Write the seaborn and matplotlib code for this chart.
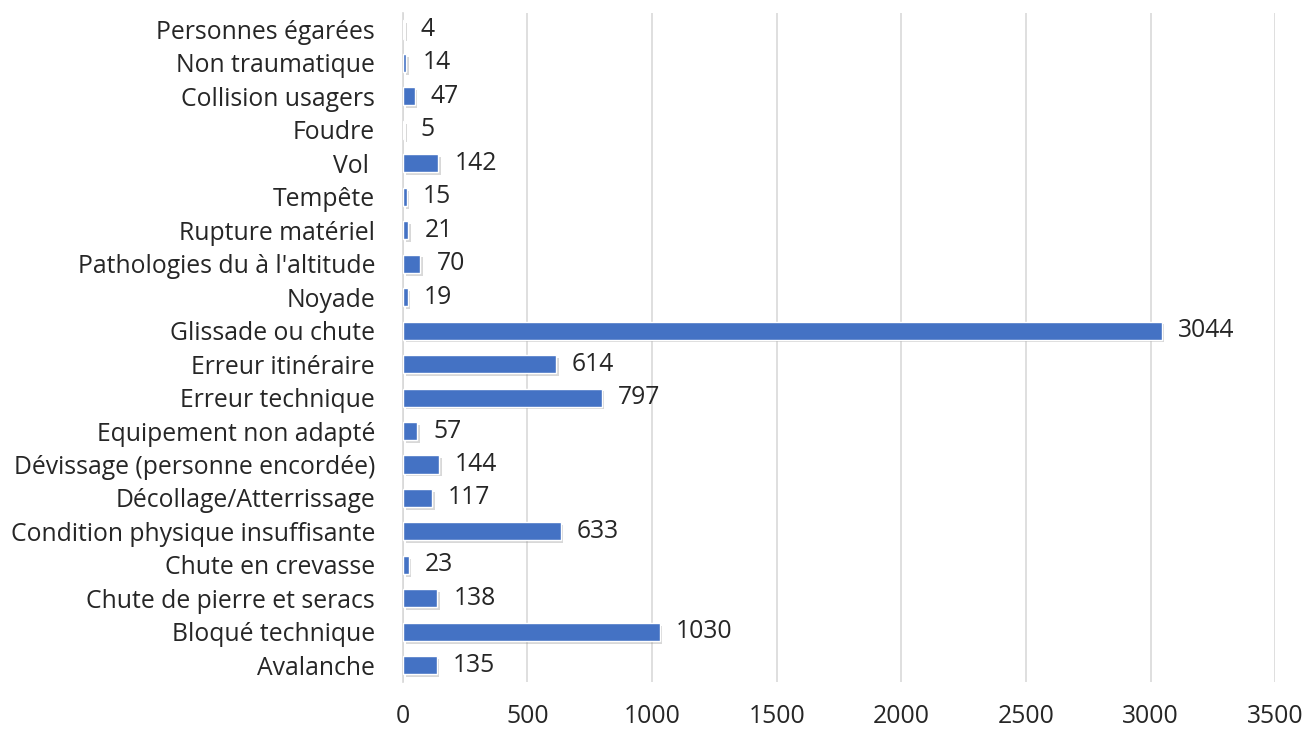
import pandas as pd
import matplotlib
matplotlib.use('Agg')
import matplotlib.pyplot as plt
import matplotlib.patheffects as pe
import seaborn as sns

# catégories, de haut en bas
categories = [
    "Personnes égarées", "Non traumatique", "Collision usagers", "Foudre", "Vol ",
    "Tempête", "Rupture matériel", "Pathologies du à l'altitude", "Noyade",
    "Glissade ou chute", "Erreur itinéraire", "Erreur technique",
    "Equipement non adapté", "Dévissage (personne encordée)",
    "Décollage/Atterrissage", "Condition physique insuffisante",
    "Chute en crevasse", "Chute de pierre et seracs", "Bloqué technique", "Avalanche",
]
values = [4, 14, 47, 5, 142, 15, 21, 70, 19, 3044, 614, 797, 57, 144, 117, 633, 23, 138, 1030, 135]
x_ticks = [0, 500, 1000, 1500, 2000, 2500, 3000, 3500]

df = pd.DataFrame({"cause": categories, "n": values})

sns.set_theme(style="white")
plt.rcParams['font.family'] = ['Open Sans', 'DejaVu Sans']
fs = 17.8

fig = plt.figure(figsize=(13.08, 7.29), dpi=100)
ax = fig.add_axes([0.308, 0.0645, 0.667, 0.918])

sns.barplot(data=df, x="n", y="cause", order=categories, color="#4472C4",
            saturation=1, width=0.54, ax=ax, zorder=3)

for p in ax.patches:
    p.set_path_effects([pe.SimplePatchShadow(offset=(2, -2), shadow_rgbFace="#808080", alpha=0.3),
                        pe.Normal()])

for i, v in enumerate(values):
    ax.text(v + 65, i, str(v), va="center", ha="left", fontsize=fs, color="#262626")

ax.set_xlim(0, 3500)
ax.set_xticks(x_ticks)
ax.xaxis.grid(True, color="#D9D9D9", linewidth=1.2, zorder=0)
ax.set_axisbelow(True)
ax.set_xlabel("")
ax.set_ylabel("")
for s in ["top", "right", "bottom"]:
    ax.spines[s].set_visible(False)
ax.spines["left"].set_color("#D9D9D9")
ax.tick_params(axis="both", length=0, labelsize=fs, labelcolor="#262626")
ax.tick_params(axis="x", pad=16)
ax.tick_params(axis="y", pad=20)

fig.savefig("out.png", dpi=100)
